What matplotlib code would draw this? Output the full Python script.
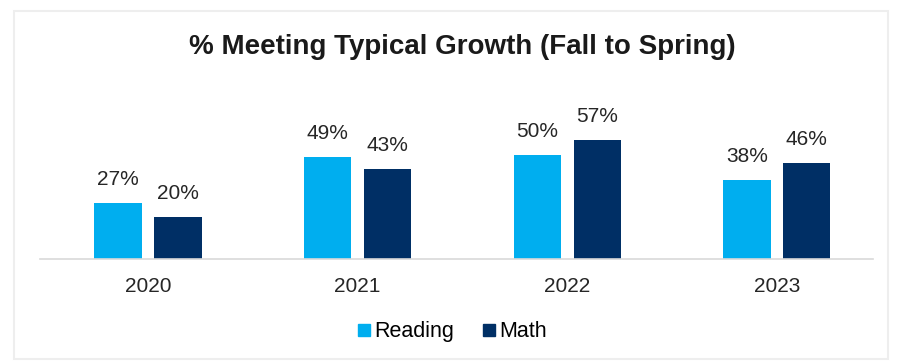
import matplotlib
matplotlib.use('Agg')
import matplotlib.pyplot as plt
from matplotlib.lines import Line2D
from matplotlib.patches import Rectangle
import numpy as np

years = ['2020', '2021', '2022', '2023']
reading = [27, 49, 50, 38]
math_vals = [20, 43, 57, 46]

c_reading = '#00aeef'
c_math = '#002f65'

plt.rcParams['font.family'] = ['Liberation Sans', 'DejaVu Sans']

fig = plt.figure(figsize=(9.02, 3.64), dpi=100)
fig.patch.set_facecolor('white')

# faint frame around the chart
fig.add_artist(Rectangle((0.015, 0.015), 0.97, 0.955, transform=fig.transFigure,
                         fill=False, edgecolor='#eeeeee', linewidth=1.5))

ax = fig.add_axes([0.0443, 0.2885, 0.9235, 0.459])
x = np.arange(len(years))
w = 0.225
off = 0.143

b1 = ax.bar(x - off, reading, w, color=c_reading)
b2 = ax.bar(x + off, math_vals, w, color=c_math)

for bars, vals in ((b1, reading), (b2, math_vals)):
    for b, v in zip(bars, vals):
        ax.annotate(f'{v}%', (b.get_x() + b.get_width() / 2, v),
                    xytext=(0, 10), textcoords='offset points',
                    ha='center', va='bottom', fontsize=15, color='#262626')

ax.set_xlim(-0.515, 3.458)
ax.set_ylim(0, 80)
ax.set_xticks(x)
ax.set_xticklabels(years, fontsize=15, color='#262626')
ax.tick_params(axis='x', length=0, pad=13)
ax.set_yticks([])
for s in ['top', 'right', 'left']:
    ax.spines[s].set_visible(False)
ax.spines['bottom'].set_color('#d9d9d9')
ax.spines['bottom'].set_linewidth(1.2)

fig.text(0.513, 0.871, '% Meeting Typical Growth (Fall to Spring)',
         ha='center', va='center', fontsize=20, fontweight='bold', color='#1a1a1a')

handles = [Line2D([], [], marker='s', linestyle='none', markersize=9, color=c_reading),
           Line2D([], [], marker='s', linestyle='none', markersize=9, color=c_math)]
fig.legend(handles, ['Reading', 'Math'], loc='center', bbox_to_anchor=(0.5, 0.088),
           ncol=2, frameon=False, fontsize=15.5, handletextpad=0.1,
           columnspacing=1.2, handlelength=0.8)

fig.savefig('out.png', dpi=100)
